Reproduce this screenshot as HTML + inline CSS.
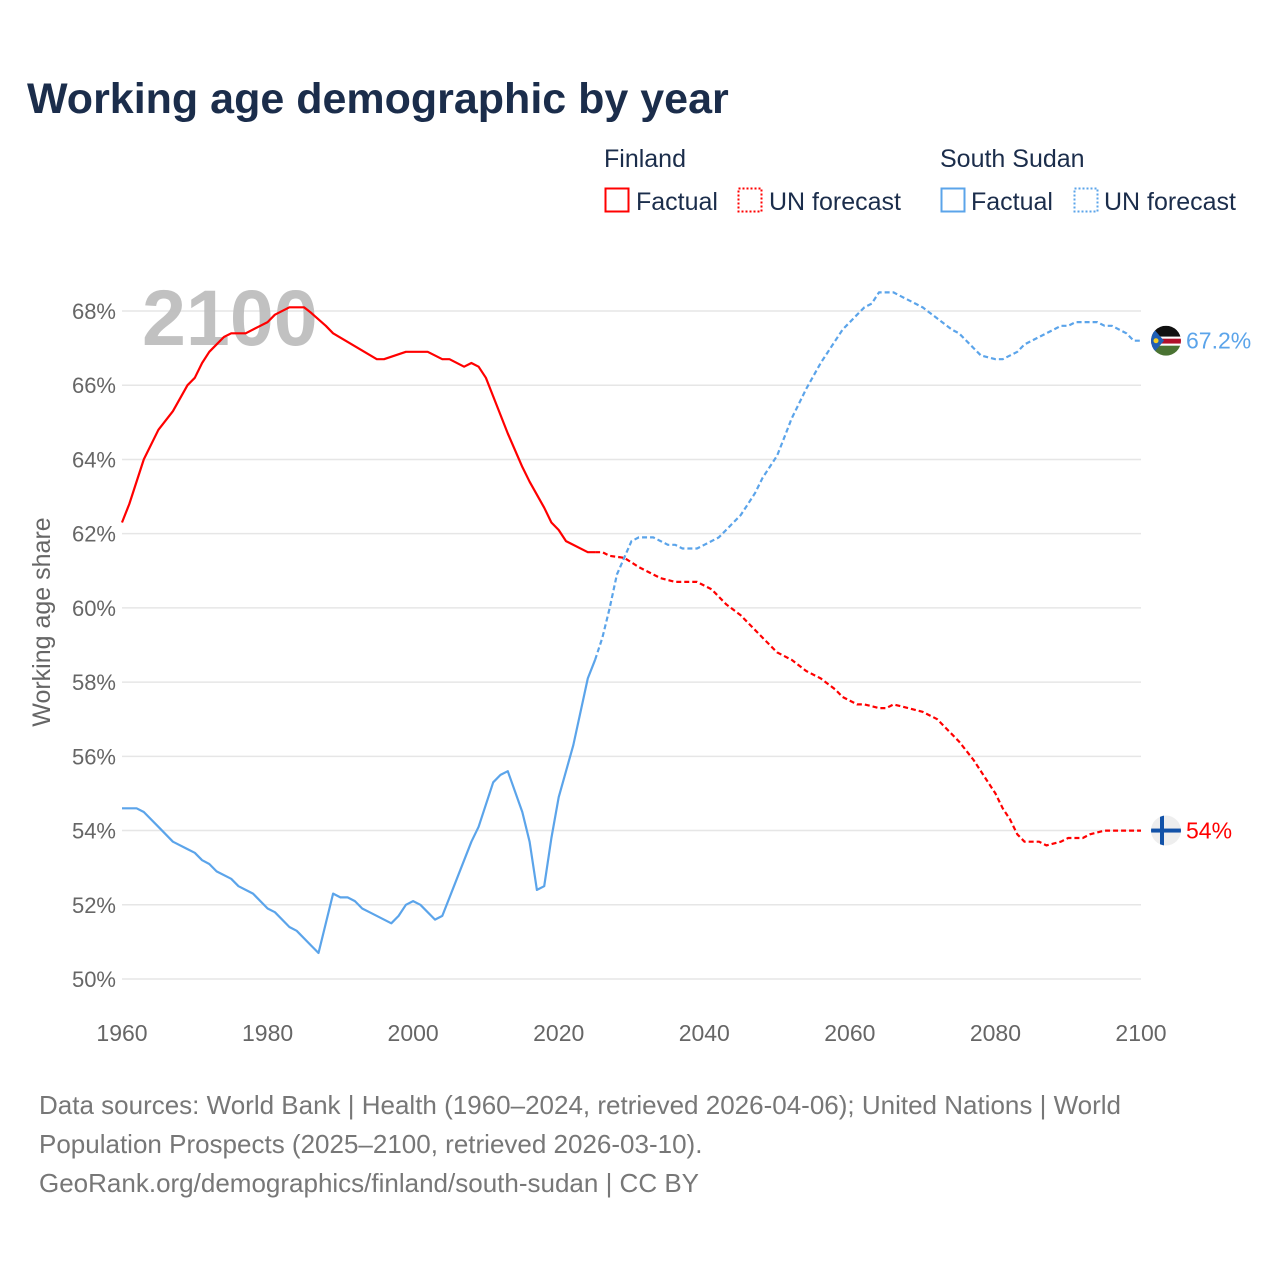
<!DOCTYPE html>
<html><head><meta charset="utf-8"><style>
body{margin:0;background:#fff;font-family:"Liberation Sans",sans-serif;}
#wrap{position:relative;width:1280px;height:1280px;overflow:hidden}
</style></head><body>
<div id="wrap">
<svg id="chart" width="1280" height="1280" xmlns="http://www.w3.org/2000/svg">
<text x="27" y="113" font-size="43" font-weight="bold" fill="#1b2d4b">Working age demographic by year</text>
<g font-size="25" fill="#1b2d4b">
<text x="604" y="167">Finland</text>
<rect x="605.5" y="188.5" width="23" height="23" fill="none" stroke="#f00" stroke-width="2"/>
<text x="636" y="210">Factual</text>
<rect x="738.5" y="188.5" width="23" height="23" fill="none" stroke="#f00" stroke-width="2" stroke-dasharray="2,2"/>
<text x="769" y="210">UN forecast</text>
<text x="940" y="167">South Sudan</text>
<rect x="941.5" y="188.5" width="23" height="23" fill="none" stroke="#5ba4ea" stroke-width="2"/>
<text x="971" y="210">Factual</text>
<rect x="1074.5" y="188.5" width="23" height="23" fill="none" stroke="#5ba4ea" stroke-width="2" stroke-dasharray="2,2"/>
<text x="1104" y="210">UN forecast</text>
</g>
<g id="grid"></g>
<text x="142" y="345" font-size="79" font-weight="bold" fill="#bbb" opacity="0.9">2100</text>
<g id="series"></g>
<text transform="translate(50,622) rotate(-90)" text-anchor="middle" font-size="25" fill="#666">Working age share</text>
<g font-size="26" fill="#777">
<text x="39" y="1114">Data sources: World Bank | Health (1960–2024, retrieved 2026-04-06); United Nations | World</text>
<text x="39" y="1153">Population Prospects (2025–2100, retrieved 2026-03-10).</text>
<text x="39" y="1192">GeoRank.org/demographics/finland/south-sudan | CC BY</text>
</g>
</svg>
</div>
<script>
const yTicks=[50,52,54,56,58,60,62,64,66,68];
const xTicks=[1960,1980,2000,2020,2040,2060,2080,2100];
const finFactYears=[1960,1961,1963,1965,1967,1969,1970,1971,1972,1974,1975,1977,1979,1980,1981,1983,1985,1986,1988,1989,1995,1996,1999,2002,2004,2005,2007,2008,2009,2010,2011,2013,2015,2016,2018,2019,2020,2021,2024,2025];
const finFactVals=[62.3,62.8,64.0,64.8,65.3,66.0,66.2,66.6,66.9,67.3,67.4,67.4,67.6,67.7,67.9,68.1,68.1,67.95,67.6,67.4,66.7,66.7,66.9,66.9,66.7,66.7,66.5,66.6,66.5,66.2,65.7,64.7,63.8,63.4,62.7,62.3,62.1,61.8,61.5,61.5];
const finFcYears=[2025,2026,2027,2029,2031,2032,2034,2036,2039,2041,2043,2045,2048,2050,2052,2054,2056,2058,2059,2061,2062,2064,2065,2066,2068,2070,2072,2075,2077,2079,2080,2081,2082,2083,2084,2086,2087,2089,2090,2092,2093,2095,2100];
const finFcVals=[61.5,61.5,61.4,61.35,61.1,61.0,60.8,60.7,60.7,60.5,60.1,59.8,59.2,58.8,58.6,58.3,58.1,57.8,57.6,57.4,57.4,57.3,57.3,57.4,57.3,57.2,57.0,56.4,55.9,55.3,55.0,54.6,54.3,53.9,53.7,53.7,53.6,53.7,53.8,53.8,53.9,54.0,54.0];
const ssFactYears=[1960,1962,1963,1965,1967,1969,1970,1971,1972,1973,1975,1976,1978,1980,1981,1983,1984,1986,1987,1989,1990,1991,1992,1993,1994,1997,1998,1999,2000,2001,2003,2004,2008,2009,2011,2012,2013,2015,2016,2017,2018,2019,2020,2022,2024,2025];
const ssFactVals=[54.6,54.6,54.5,54.1,53.7,53.5,53.4,53.2,53.1,52.9,52.7,52.5,52.3,51.9,51.8,51.4,51.3,50.9,50.7,52.3,52.2,52.2,52.1,51.9,51.8,51.5,51.7,52.0,52.1,52.0,51.6,51.7,53.7,54.1,55.3,55.5,55.6,54.5,53.7,52.4,52.5,53.8,54.9,56.3,58.1,58.6];
const ssFcYears=[2025,2026,2027,2028,2030,2031,2033,2034,2035,2036,2037,2038,2039,2040,2042,2043,2045,2046,2047,2048,2050,2051,2052,2054,2056,2058,2059,2061,2062,2063,2064,2066,2067,2069,2070,2072,2074,2075,2077,2078,2080,2081,2083,2084,2086,2088,2089,2090,2091,2094,2095,2096,2098,2099,2100];
const ssFcVals=[58.6,59.2,60.0,60.9,61.8,61.9,61.9,61.8,61.7,61.7,61.6,61.6,61.6,61.7,61.9,62.1,62.5,62.8,63.1,63.5,64.1,64.6,65.1,65.9,66.6,67.2,67.5,67.9,68.1,68.2,68.5,68.5,68.4,68.2,68.1,67.8,67.5,67.4,67.0,66.8,66.7,66.7,66.9,67.1,67.3,67.5,67.6,67.6,67.7,67.7,67.6,67.6,67.4,67.2,67.2];

const NS="http://www.w3.org/2000/svg";
const X0=122,X1=1141,Y50=979,Y68=311;
function xs(y){return X0+(y-1960)*(X1-X0)/140;}
function ys(v){return Y50-(v-50)*(Y50-Y68)/18;}
function mk(tag,attrs,parent){const e=document.createElementNS(NS,tag);for(const k in attrs)e.setAttribute(k,attrs[k]);parent.appendChild(e);return e;}
const grid=document.getElementById('grid');
yTicks.forEach(t=>{
  const l=mk('line',{x1:X0,x2:X1,y1:ys(t),y2:ys(t),stroke:'#e6e6e6','stroke-width':1.5},grid);
  
  
  const tx=mk('text',{x:116,y:ys(t)+8,'text-anchor':'end','font-size':22,fill:'#666'},grid);
  tx.textContent=t+'%';
  
  
});
xTicks.forEach(t=>{
  const tx=mk('text',{x:xs(t),y:1041,'text-anchor':'middle','font-size':23,fill:'#666'},grid);
  tx.textContent=t;
  
  
});
const ser=document.getElementById('series');
function line(yrs,vals,color,dash,name){
  const d=yrs.map((y,i)=>(i?'L':'M')+xs(y).toFixed(1)+','+ys(vals[i]).toFixed(1)).join('');
  const p=mk('path',{d:d,fill:'none',stroke:color,'stroke-width':2.2,'stroke-linejoin':'round'},ser);
  if(dash)p.setAttribute('stroke-dasharray','5,3');
  
  
}
line(ssFactYears,ssFactVals,'#5ba4ea',false,'south-sudan-factual-line');
line(ssFcYears,ssFcVals,'#5ba4ea',true,'south-sudan-forecast-line');
line(finFactYears,finFactVals,'#ff0000',false,'finland-factual-line');
line(finFcYears,finFcVals,'#ff0000',true,'finland-forecast-line');
const ssEnd=ssFcVals[ssFcVals.length-1], fiEnd=finFcVals[finFcVals.length-1];
const cx=1166;
let cyS=ys(ssEnd), cyF=ys(fiEnd);
const defs=mk('defs',{},ser);
const cs=mk('clipPath',{id:'cs'},defs);mk('circle',{cx:cx,cy:cyS,r:15},cs);
const cf=mk('clipPath',{id:'cf'},defs);mk('circle',{cx:cx,cy:cyF,r:15},cf);
const gS=mk('g',{'clip-path':'url(#cs)'},ser);


mk('rect',{x:cx-15,y:cyS-15,width:30,height:11,fill:'#111'},gS);
mk('rect',{x:cx-15,y:cyS-4,width:30,height:2,fill:'#fff'},gS);
mk('rect',{x:cx-15,y:cyS-2,width:30,height:5,fill:'#b0102a'},gS);
mk('rect',{x:cx-15,y:cyS+3,width:30,height:2,fill:'#fff'},gS);
mk('rect',{x:cx-15,y:cyS+5,width:30,height:10,fill:'#4a7332'},gS);
mk('polygon',{points:`${cx-15},${cyS-15} ${cx-2},${cyS} ${cx-15},${cyS+15}`,fill:'#1f5fb5'},gS);
mk('circle',{cx:cx-10,cy:cyS,r:2.5,fill:'#f5d020'},gS);
const gF=mk('g',{'clip-path':'url(#cf)'},ser);


mk('rect',{x:cx-15,y:cyF-15,width:30,height:30,fill:'#eee'},gF);
mk('rect',{x:cx-15,y:cyF-2,width:30,height:4,fill:'#1252a8'},gF);
mk('rect',{x:cx-6,y:cyF-15,width:4,height:30,fill:'#1252a8'},gF);
const lS=mk('text',{x:1186,y:cyS+8,'font-size':23,fill:'#5ba4ea'},ser);
lS.textContent=ssEnd+'%';


const lF=mk('text',{x:1186,y:cyF+8,'font-size':23,fill:'#ff0000'},ser);
lF.textContent=fiEnd+'%';


</script>
</body></html>
